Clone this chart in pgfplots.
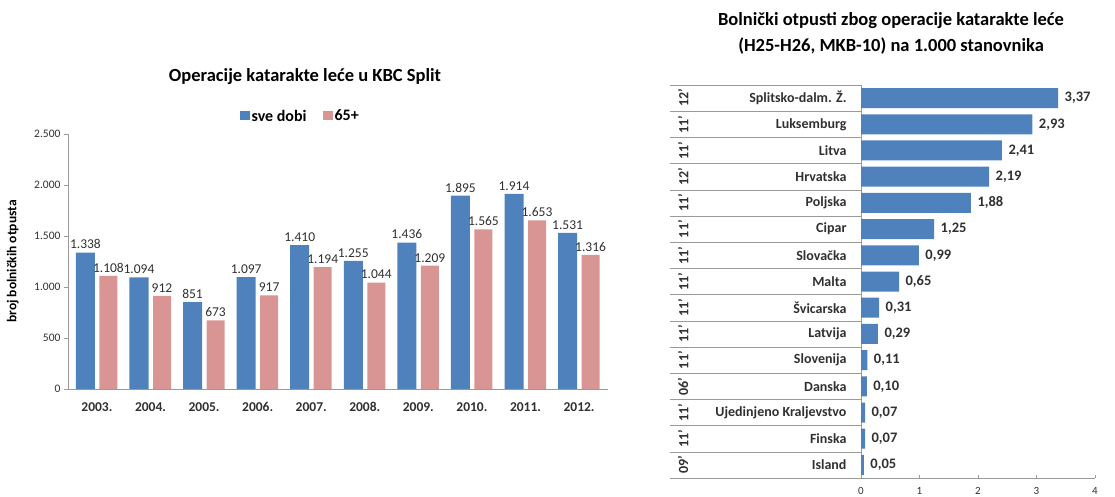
\documentclass[border=0pt]{standalone}
\usepackage{pgfplots}
\pgfplotsset{compat=1.18}
\usepackage{fontspec}
\setmainfont{Carlito}
\definecolor{blueb}{HTML}{4F81BD}
\definecolor{pinkb}{HTML}{D99594}
\definecolor{axgray}{HTML}{9A9A9A}
\definecolor{txtgray}{HTML}{303030}
\begin{document}
\begin{tikzpicture}[x=1pt,y=1pt]
\useasboundingbox (0,0) rectangle (1115,497);
% ---------- left chart ----------
\node[font=\fontsize{18.5}{19}\selectfont\bfseries] at (305,420) {Operacije katarakte leće u KBC Split};
\begin{axis}[
  at={(68pt,108pt)}, anchor=south west, scale only axis,
  width=540pt, height=255pt,
  xmin=-0.54, xmax=9.54, ymin=0, ymax=2500,
  ybar,
  axis x line*=bottom, axis y line*=left,
  axis line style={axgray},
  xtick={0,...,9},
  xticklabels={2003.,2004.,2005.,2006.,2007.,2008.,2009.,2010.,2011.,2012.},
  x tick style={draw=none},
  xticklabel style={font=\fontsize{13.5}{13.5}\selectfont\bfseries, text=txtgray, yshift=-6pt},
  ytick={0,500,...,2500},
  y tick style={axgray},
  tick align=outside, major tick length=4pt,
  yticklabel style={font=\fontsize{11.5}{11.5}\selectfont, text=txtgray},
  /pgf/number format/assume math mode=true,
  /pgf/number format/1000 sep={.},
  ylabel={broj bolničkih otpusta},
  ylabel style={font=\fontsize{13.5}{14}\selectfont\bfseries, at={(axis description cs:-0.085,0.5)}},
  nodes near coords,
  nodes near coords style={font=\fontsize{13.5}{13.5}\selectfont, text=txtgray, /pgf/number format/fixed, /pgf/number format/precision=0, /pgf/number format/1000 sep={.}},
  legend style={at={(0.43,1.07)}, anchor=center, legend columns=2, draw=none, fill=none,
    font=\fontsize{16}{16}\selectfont\bfseries,
    /tikz/every even column/.append style={column sep=14pt}},
  legend image code/.code={\fill[#1] (0pt,-4pt) rectangle (10pt,5pt);},
]
\addplot[bar width=19pt, bar shift=-11.5pt, fill=blueb, draw=none] coordinates {
(0,1338) (1,1094) (2,851) (3,1097) (4,1410) (5,1255) (6,1436) (7,1895) (8,1914) (9,1531)};
\addlegendentry{sve dobi}
\addplot[bar width=18pt, bar shift=11.5pt, fill=pinkb, draw=none] coordinates {
(0,1108) (1,912) (2,673) (3,917) (4,1194) (5,1044) (6,1209) (7,1565) (8,1653) (9,1316)};
\addlegendentry{65+}
\end{axis}
% ---------- right chart ----------
\node[font=\fontsize{18.5}{19}\selectfont\bfseries] at (891,476) {Bolnički otpusti zbog operacije katarakte leće};
\node[font=\fontsize{18.5}{19}\selectfont\bfseries] at (891,451) {(H25-H26, MKB-10) na 1.000 stanovnika};
\begin{axis}[
  at={(861pt,19pt)}, anchor=south west, scale only axis,
  width=234pt, height=393pt,
  xmin=0, xmax=4, ymin=-0.5, ymax=14.5, y dir=reverse,
  xbar, point meta=x,
  clip=false,
  axis x line*=bottom, axis y line*=left,
  axis line style={axgray},
  xtick={0,...,4},
  x tick style={axgray}, major tick length=3pt,
  xticklabel style={font=\fontsize{11}{11}\selectfont, text=txtgray, yshift=-6pt},
  ytick={0,...,14},
  yticklabels={Splitsko-dalm. Ž.,Luksemburg,Litva,Hrvatska,Poljska,Cipar,Slovačka,Malta,Švicarska,Latvija,Slovenija,Danska,Ujedinjeno Kraljevstvo,Finska,Island},
  y tick style={draw=none},
  yticklabel style={font=\fontsize{14}{14}\selectfont\bfseries, text=txtgray, xshift=-8pt},
  /pgf/number format/assume math mode=true,
  nodes near coords,
  nodes near coords style={font=\fontsize{14.5}{14.5}\selectfont\bfseries, text=txtgray, xshift=3pt,
    /pgf/number format/fixed, /pgf/number format/fixed zerofill, /pgf/number format/precision=2, /pgf/number format/use comma},
]
\addplot[bar width=20pt, fill=blueb, draw=none] coordinates {
(3.37,0) (2.93,1) (2.41,2) (2.19,3) (1.88,4) (1.25,5) (0.99,6) (0.65,7) (0.31,8) (0.29,9) (0.11,10) (0.10,11) (0.07,12) (0.07,13) (0.05,14)};
\pgfplotsinvokeforeach{-0.5,0.5,...,14.5}{\draw[axgray] (axis cs:-3.26,#1) -- (axis cs:0,#1);}
\begin{scope}[every node/.style={rotate=90, font=\fontsize{14}{14}\selectfont\bfseries, text=txtgray}]
\node at (axis cs:-3.04,0) {12'};
\node at (axis cs:-3.04,1) {11'};
\node at (axis cs:-3.04,2) {11'};
\node at (axis cs:-3.04,3) {12'};
\node at (axis cs:-3.04,4) {11'};
\node at (axis cs:-3.04,5) {11'};
\node at (axis cs:-3.04,6) {11'};
\node at (axis cs:-3.04,7) {11'};
\node at (axis cs:-3.04,8) {11'};
\node at (axis cs:-3.04,9) {11'};
\node at (axis cs:-3.04,10) {11'};
\node at (axis cs:-3.04,11) {06'};
\node at (axis cs:-3.04,12) {11'};
\node at (axis cs:-3.04,13) {11'};
\node at (axis cs:-3.04,14) {09'};
\end{scope}
\end{axis}
\end{tikzpicture}
\end{document}
